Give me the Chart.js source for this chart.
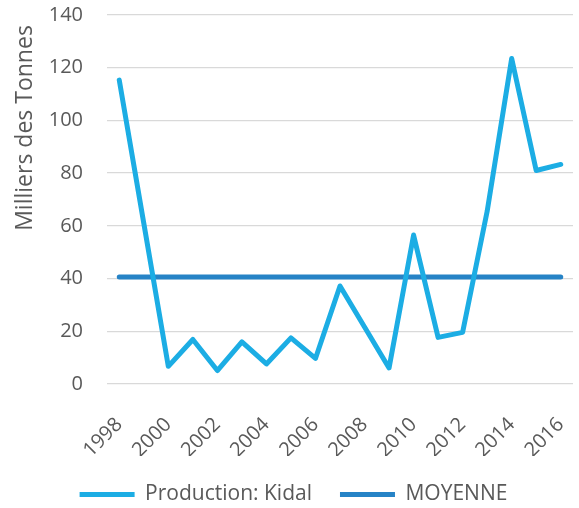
<!DOCTYPE html>
<html>
<head>
<meta charset="utf-8">
<script src="https://cdn.jsdelivr.net/npm/chart.js@4/dist/chart.umd.min.js"></script>
<style>
html,body{margin:0;padding:0;background:#fff;}
#wrap{width:579px;height:508px;}
</style>
</head>
<body>
<div id="wrap"><canvas id="c" width="579" height="508"></canvas></div>
<script>
const years = ['1998','1999','2000','2001','2002','2003','2004','2005','2006','2007','2008','2009','2010','2011','2012','2013','2014','2015','2016'];
const production = [115.3, 61, 6.7, 16.9, 5.1, 16.0, 7.6, 17.5, 9.7, 37.2, 21.6, 6.1, 56.5, 17.7, 19.6, 65.5, 123.5, 81.0, 83.3];
const moyenne = [40.6, 40.6, 40.6, 40.6, 40.6, 40.6, 40.6, 40.6, 40.6, 40.6, 40.6, 40.6, 40.6, 40.6, 40.6, 40.6, 40.6, 40.6, 40.6];
const yTicks = [0, 20, 40, 60, 80, 100, 120, 140];
const seriesNames = ['Production: Kidal', 'MOYENNE'];
const yTitle = 'Milliers des Tonnes';

const FONT = "'Open Sans', sans-serif";
const TXT = '#595959';

const yTitlePlugin = {
  id: 'yTitle',
  afterDraw(chart) {
    const ctx = chart.ctx;
    ctx.save();
    ctx.translate(25, 128);
    ctx.rotate(-Math.PI / 2);
    ctx.font = "23px 'Open Sans', sans-serif";
    ctx.fillStyle = TXT;
    ctx.textAlign = 'center';
    ctx.textBaseline = 'middle';
    ctx.fillText(yTitle, 0, 0);
    ctx.restore();
  }
};

new Chart(document.getElementById('c'), {
  type: 'line',
  data: {
    labels: years,
    datasets: [
      { label: seriesNames[0], data: production, borderColor: '#1CADE4', backgroundColor: '#1CADE4',
        borderWidth: 5, pointRadius: 0, tension: 0, borderCapStyle: 'round', borderJoinStyle: 'round' },
      { label: seriesNames[1], data: moyenne, borderColor: '#2683C6', backgroundColor: '#2683C6',
        borderWidth: 5, pointRadius: 0, tension: 0, borderCapStyle: 'round', borderJoinStyle: 'round' }
    ]
  },
  plugins: [yTitlePlugin],
  options: {
    responsive: false,
    animation: false,
    layout: { padding: { top: 15, right: 0, left: 8, bottom: -7 } },
    plugins: {
      tooltip: { enabled: false },
      legend: {
        position: 'bottom',
        labels: {
          font: { family: FONT, size: 21 },
          color: TXT,
          boxWidth: 55,
          boxHeight: 5,
          padding: 28,
          generateLabels(chart) {
            return chart.data.datasets.map((ds, i) => ({
              text: ds.label, fillStyle: ds.borderColor, strokeStyle: ds.borderColor,
              lineWidth: 0, hidden: false, datasetIndex: i, fontColor: TXT
            }));
          }
        }
      }
    },
    scales: {
      x: {
        offset: true,
        grid: { display: false, drawTicks: false },
        border: { display: false },
        ticks: {
          font: { family: FONT, size: 20 }, color: TXT,
          maxRotation: 45, minRotation: 45, autoSkip: false, padding: 29,
          callback(v, i) { return i % 2 === 0 ? years[i] : ''; }
        },
        afterFit(s) { s.height = 72; s.paddingLeft = 0; s.paddingRight = 6; }
      },
      y: {
        min: 0, max: 140,
        afterBuildTicks(s) { s.ticks = yTicks.map(v => ({ value: v })); },
        grid: { color: '#d9d9d9', lineWidth: 1.3, drawTicks: false },
        border: { display: false },
        ticks: { font: { family: FONT, size: 20 }, color: TXT, padding: 24 },
        afterFit(s) { s.width = 99; s.paddingTop = 0; s.paddingBottom = 0; }
      }
    }
  }
});
</script>
</body>
</html>
